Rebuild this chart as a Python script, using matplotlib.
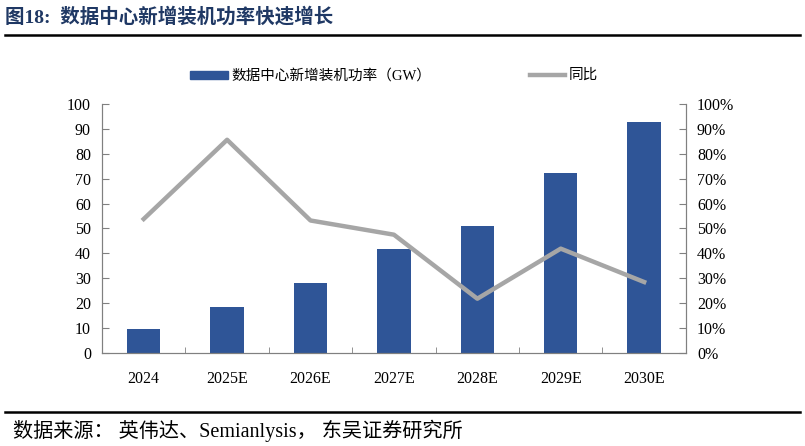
import matplotlib
matplotlib.use('Agg')
import matplotlib.pyplot as plt
import numpy as np
from matplotlib.lines import Line2D

plt.rcParams['font.family'] = ['Liberation Serif', 'Noto Sans CJK SC', 'DejaVu Sans']

years = ['2024', '2025E', '2026E', '2027E', '2028E', '2029E', '2030E']
capacity_gw = [9.8, 18.5, 28.2, 41.8, 50.8, 72.3, 92.9]
yoy_pct = [53.8, 85.6, 53.2, 47.5, 21.8, 41.9, 28.5]
left_ticks = list(range(0, 101, 10))
left_labels = [str(v) for v in left_ticks]
right_labels = [f'{v}%' for v in left_ticks]

bar_color = '#2F5597'
line_color = '#A6A6A6'
title_color = '#1F3864'
mixed = ['Liberation Serif', 'Noto Sans CJK SC', 'DejaVu Sans']
serif = 'Liberation Serif'

fig = plt.figure(figsize=(8.05, 4.46), dpi=100)
ax = fig.add_axes([0.1267, 0.2085, 0.7253, 0.5585])
ax2 = ax.twinx()

x = np.arange(len(years))
ax.bar(x, capacity_gw, width=0.4, color=bar_color, zorder=2)
ax2.plot(x, yoy_pct, color=line_color, lw=3.2, zorder=3)

ax.set_xlim(-0.5, len(years) - 0.5)
ax.set_ylim(0, 100)
ax2.set_ylim(0, 100)
ax.set_yticks(left_ticks, left_labels, fontfamily=serif, fontsize=11.5)
ax2.set_yticks(left_ticks, right_labels, fontfamily=serif, fontsize=11.5)

ax.set_xticks(x, years, fontfamily=serif, fontsize=11.5)
ax.set_xticks(np.arange(-0.5, len(years)), minor=True)
ax.tick_params(axis='x', which='major', length=0, pad=13)
ax.tick_params(axis='x', which='minor', direction='in', length=4, color='#808080')
ax.tick_params(axis='y', direction='in', length=5, color='#808080', pad=8)
ax2.tick_params(axis='y', direction='in', length=5, color='#808080', pad=8)

for a in (ax, ax2):
    a.spines['top'].set_visible(False)
    for s in ('left', 'right', 'bottom'):
        a.spines[s].set_color('#808080')

# legend drawn by hand to match spacing
fig.text(0.288, 0.831, '数据中心新增装机功率（GW）', fontsize=10.5, family=mixed, va='center')
fig.patches.append(plt.Rectangle((0.236, 0.822), 0.047, 0.018, color=bar_color,
                                 transform=fig.transFigure, figure=fig))
fig.lines.append(Line2D([0.658, 0.702], [0.831, 0.831], color=line_color, lw=3.2,
                        transform=fig.transFigure, figure=fig))
fig.text(0.706, 0.831, '同比', fontsize=10.5, family=mixed, va='center')

fig.text(0.006, 0.962, '图18:  数据中心新增装机功率快速增长', fontsize=14, weight='bold',
         color=title_color, family=mixed, va='center')
fig.lines.append(Line2D([0.006, 0.994], [0.921, 0.921], color='black', lw=1.8,
                        transform=fig.transFigure, figure=fig))
fig.lines.append(Line2D([0.006, 0.994], [0.077, 0.077], color='black', lw=1.8,
                        transform=fig.transFigure, figure=fig))
fig.text(0.016, 0.035, '数据来源： 英伟达、Semianlysis， 东吴证券研究所', fontsize=14.5,
         family=mixed, va='center')

fig.savefig('out.png', dpi=100)
